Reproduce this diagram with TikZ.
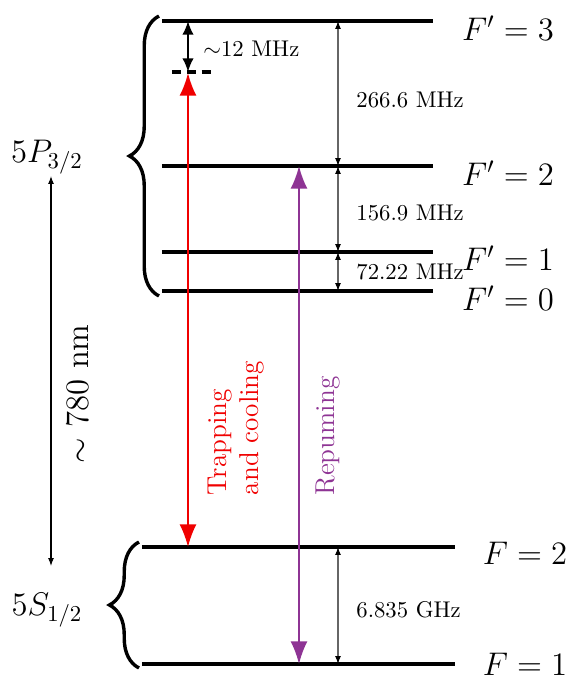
\documentclass[tikz,border=0pt]{standalone}
\usetikzlibrary{arrows.meta,decorations.pathreplacing}
\definecolor{trapred}{RGB}{240,0,0}
\definecolor{repurple}{RGB}{142,52,148}
\begin{document}
\begin{tikzpicture}[x=0.44pt,y=-0.44pt,
  level/.style={line width=1.5pt},
  gap/.style={draw=black!60, line width=0.45pt, {Latex[length=3.5pt,width=2.6pt,black]}-{Latex[length=3.5pt,width=2.6pt,black]}},
  gaplabel/.style={anchor=west, inner sep=0pt},
  statelabel/.style={font=\Large, inner sep=0pt},
  laser/.style={line width=0.8pt, {Latex[length=10pt,width=7.5pt]}-{Latex[length=10pt,width=7.5pt]}},
  bracestyle/.style={line width=1.5pt, decorate, decoration={brace, amplitude=13pt}}]
\useasboundingbox (0,0) rectangle (568,679);

% upper manifold levels
\coordinate (p3l) at (162,21);  \coordinate (p3r) at (433,21);
\coordinate (p2l) at (162,166); \coordinate (p2r) at (433,166);
\coordinate (p1l) at (162,252); \coordinate (p1r) at (433,252);
\coordinate (p0l) at (162,291); \coordinate (p0r) at (433,291);
\draw[level] (p3l) -- (p3r);
\draw[level] (p2l) -- (p2r);
\draw[level] (p1l) -- (p1r);
\draw[level] (p0l) -- (p0r);
\node[statelabel] (lF3) at (508,28) {$F'=3$};
\node[statelabel] (lF2) at (508,173) {$F'=2$};
\node[statelabel] (lF1) at (508,258) {$F'=1$};
\node[statelabel] (lF0) at (508,298) {$F'=0$};

% lower manifold levels
\coordinate (s2l) at (142,547); \coordinate (s2r) at (455,547);
\coordinate (s1l) at (142,664); \coordinate (s1r) at (455,664);
\draw[level] (s2l) -- (s2r);
\draw[level] (s1l) -- (s1r);
\node[statelabel] (lS2) at (525,553) {$F=2$};
\node[statelabel] (lS1) at (525,664) {$F=1$};

% braces
\coordinate (bpb) at (159,296); \coordinate (bpt) at (159,16);
\coordinate (bsb) at (139,668); \coordinate (bst) at (139,542);
\draw[bracestyle] (bpb) -- (bpt);
\draw[bracestyle] (bsb) -- (bst);
\node[statelabel] (P32) at (47,157) {$5P_{3/2}$};
\node[statelabel] (S12) at (47,610) {$5S_{1/2}$};

% 780 nm arrow
\coordinate (wb) at (51,566); \coordinate (wt) at (51,176);
\draw[line width=0.45pt, {Latex[length=3.5pt,width=2.6pt]}-{Latex[length=3.5pt,width=2.6pt]}] (wb) -- (wt);
\node[font=\Large, rotate=90, inner sep=0pt] (nm) at (78,394) {$\sim$ 780 nm};

% hyperfine splittings
\coordinate (g3) at (338,21); \coordinate (g2) at (338,166);
\coordinate (g1) at (338,252); \coordinate (g0) at (338,291);
\draw[gap] (g2) -- (g3);
\draw[gap] (g1) -- (g2);
\draw[gap] (g0) -- (g1);
\node[gaplabel] (m266) at (356,100) {266.6 MHz};
\node[gaplabel] (m156) at (356,213) {156.9 MHz};
\node[gaplabel] (m72) at (356,272) {72.22 MHz};
\coordinate (h2) at (338,547); \coordinate (h1) at (338,664);
\draw[gap] (h1) -- (h2);
\node[gaplabel] (g6835) at (356,610) {6.835 GHz};

% detuning
\coordinate (dl) at (172,72); \coordinate (dr) at (215,72);
\draw[line width=1.5pt, dash pattern=on 4pt off 2.5pt] (dl) -- (dr);
\coordinate (d3) at (188,21); \coordinate (dd) at (188,72);
\draw[line width=0.8pt, {Latex[length=6pt,width=5pt]}-{Latex[length=6pt,width=5pt]}] (d3) -- (dd);
\node[gaplabel] (m12) at (203,49) {$\sim$12 MHz};

% trapping laser
\coordinate (tt) at (188,73); \coordinate (tb) at (188,547);
\draw[laser, trapred] (tt) -- (tb);
\node[font=\large, text=trapred, rotate=90, align=left, inner sep=0pt] (trap) at (236,428) {Trapping\\and cooling};

% repumping laser
\coordinate (rt) at (299,166); \coordinate (rb) at (299,664);
\draw[laser, repurple] (rt) -- (rb);
\node[font=\large, text=repurple, rotate=90, inner sep=0pt] (rep) at (328,436) {Repuming};
\end{tikzpicture}
\end{document}
